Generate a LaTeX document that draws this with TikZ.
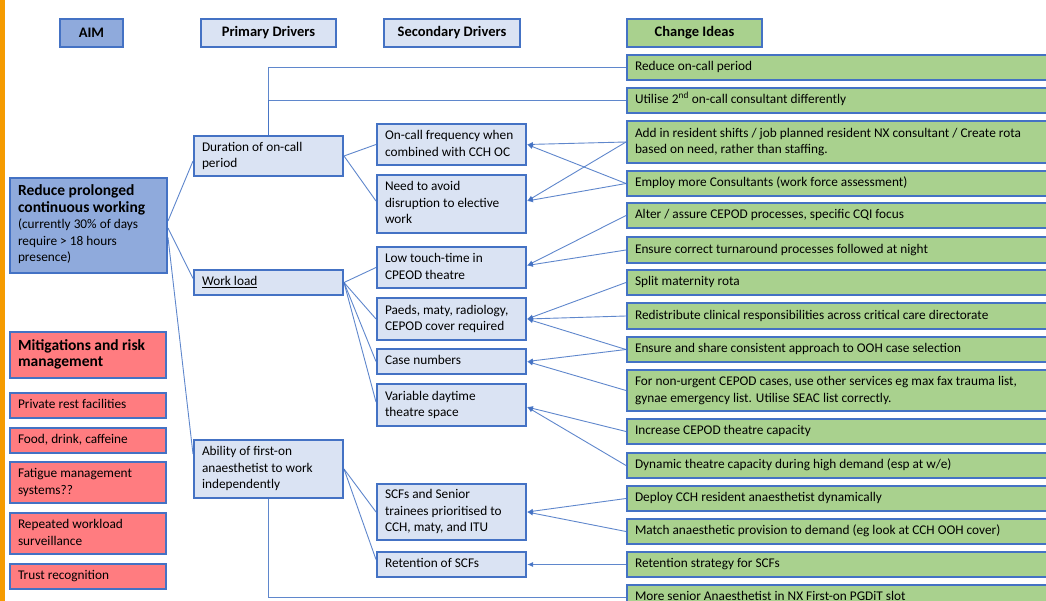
\documentclass[tikz,border=0pt]{standalone}
\usepackage{fontspec}
\setmainfont{Carlito}
\usetikzlibrary{arrows.meta,calc}
\definecolor{bord}{HTML}{4472C4}
\definecolor{aimfill}{HTML}{8FAADC}
\definecolor{lightfill}{HTML}{DAE3F3}
\definecolor{greenfill}{HTML}{A9D18E}
\definecolor{redfill}{HTML}{FF7C80}
\definecolor{orangebar}{HTML}{F59B00}
\newcommand\bodyfont{\fontsize{13.3}{16.5}\selectfont}
\newcommand\hdrfont{\fontsize{14.5}{17}\selectfont\bfseries}
\newcommand\bigbold{\fontsize{15.5}{18}\selectfont\bfseries}
% box: name, x, y, w, h, style, text
\newcommand\bx[7]{\node[#6, minimum width=#4pt, minimum height=#5pt, anchor=north west] (#1) at (#2,#3) {\makebox[\dimexpr#4pt-16pt\relax][l]{\begin{tabular}{@{}l@{}}#7\end{tabular}}};}
\begin{document}
\begin{tikzpicture}[x=1pt,y=-1pt,
  box/.style={draw=bord, line width=2pt, rectangle, inner xsep=8pt, inner ysep=2pt, font=\bodyfont},
  aimbox/.style={box, fill=aimfill},
  drvbox/.style={box, fill=lightfill},
  ideabox/.style={box, fill=greenfill},
  mitbox/.style={box, fill=redfill},
  hdr/.style={draw=bord, line width=2pt, rectangle, anchor=north west, minimum height=28pt, inner sep=0pt, font=\hdrfont, align=center},
  conn/.style={draw=bord, line width=0.9pt, draw opacity=0.85},
  arr/.style={conn, -{Latex[length=6pt,width=5pt]}}
]
\useasboundingbox (0,0) rectangle (1046,601);
\fill[white] (0,0) rectangle (1046,601);
\fill[orangebar] (0,0) rectangle (5,601);

% headers
\node[hdr, fill=aimfill, minimum width=63pt] (hAim) at (59,18) {AIM};
\node[hdr, fill=lightfill, minimum width=135pt] (hPri) at (200,18) {Primary Drivers};
\node[hdr, fill=lightfill, minimum width=136pt] (hSec) at (383,18) {Secondary Drivers};
\node[hdr, fill=greenfill, minimum width=135pt] (hChg) at (626,18) {Change Ideas};

% aim and mitigations
\bx{aim}{9}{177}{157}{95}{aimbox}{\bigbold Reduce prolonged\\ \bigbold continuous working\\ (currently 30\% of days\\ require > 18 hours\\ presence)}
\bx{mit}{9}{331}{156}{46}{mitbox}{\bigbold Mitigations and risk\\ \bigbold management}
\bx{red1}{9}{392}{156}{25}{mitbox}{Private rest facilities}
\bx{red2}{9}{427}{156}{25}{mitbox}{Food, drink, caffeine}
\bx{red3}{9}{461}{156}{41}{mitbox}{Fatigue management\\ systems??}
\bx{red4}{9}{512}{156}{41}{mitbox}{Repeated workload\\ surveillance}
\bx{red5}{9}{563}{156}{25}{mitbox}{Trust recognition}

% primary drivers
\bx{dur}{193}{135}{149}{40}{drvbox}{Duration of on-call\\ period}
\bx{wl}{193}{269}{149}{25}{drvbox}{\underline{Work load}}
\bx{abl}{193}{439}{149}{58}{drvbox}{Ability of first-on\\ anaesthetist to work\\ independently}

% secondary drivers
\bx{onc}{376}{123}{149}{41}{drvbox}{On-call frequency when\\ combined with CCH OC}
\bx{need}{376}{174}{149}{58}{drvbox}{Need to avoid\\ disruption to elective\\ work}
\bx{low}{376}{246}{149}{41}{drvbox}{Low touch-time in\\ CPEOD theatre}
\bx{paeds}{376}{297}{149}{42}{drvbox}{Paeds, maty, radiology,\\ CEPOD cover required}
\bx{casen}{376}{348}{149}{25}{drvbox}{Case numbers}
\bx{var}{376}{383}{149}{42}{drvbox}{Variable daytime\\ theatre space}
\bx{scf}{376}{483}{149}{56}{drvbox}{SCFs and Senior\\ trainees prioritised to\\ CCH, maty, and ITU}
\bx{ret}{376}{551}{149}{25}{drvbox}{Retention of SCFs}

% change ideas
\bx{ci1}{626}{54}{440}{25}{ideabox}{Reduce on-call period}
\bx{ci2}{626}{87}{440}{25}{ideabox}{Utilise 2\textsuperscript{nd} on-call consultant differently}
\bx{ci3}{626}{120}{440}{42}{ideabox}{Add in resident shifts / job planned resident NX consultant / Create rota\\ based on need, rather than staffing.}
\bx{ci4}{626}{170}{440}{25}{ideabox}{Employ more Consultants (work force assessment)}
\bx{ci5}{626}{202}{440}{25}{ideabox}{Alter / assure CEPOD processes, specific CQI focus}
\bx{ci6}{626}{236}{440}{26}{ideabox}{Ensure correct turnaround processes followed at night}
\bx{ci7}{626}{269}{440}{25}{ideabox}{Split maternity rota}
\bx{ci8}{626}{302}{440}{26}{ideabox}{Redistribute clinical responsibilities across critical care directorate}
\bx{ci9}{626}{336}{440}{25}{ideabox}{Ensure and share consistent approach to OOH case selection}
\bx{ci10}{626}{369}{440}{41}{ideabox}{For non-urgent CEPOD cases, use other services eg max fax trauma list,\\ gynae emergency list. Utilise SEAC list correctly.}
\bx{ci11}{626}{418}{440}{25}{ideabox}{Increase CEPOD theatre capacity}
\bx{ci12}{626}{452}{440}{25}{ideabox}{Dynamic theatre capacity during high demand (esp at w/e)}
\bx{ci13}{626}{485}{440}{25}{ideabox}{Deploy CCH resident anaesthetist dynamically}
\bx{ci14}{626}{518}{440}{25}{ideabox}{Match anaesthetic provision to demand (eg look at CCH OOH cover)}
\bx{ci15}{626}{551}{440}{25}{ideabox}{Retention strategy for SCFs}
\bx{ci16}{626}{584}{440}{25}{ideabox}{More senior Anaesthetist in NX First-on PGDiT slot}

% aim to primary drivers
\draw[conn] ([yshift=4.5pt]aim.east) -- ([yshift=-5pt]dur.west);
\draw[conn] ([yshift=-2.5pt]aim.east) -- ([yshift=4pt]wl.west);
\draw[conn] ([yshift=-12pt]aim.east) -- ([yshift=15pt]abl.west);

% primary to change ideas directly
\draw[conn] (dur.north) |- (ci1.west);
\draw[conn] (dur.north) |- (ci2.west);
\draw[conn] (abl.south) |- (ci16.west);

% primary to secondary
\draw[conn] (dur.east) -- (onc.west);
\draw[conn] (dur.east) -- ([yshift=3pt]need.west);
\draw[conn] (wl.east) -- (low.west);
\draw[conn] (wl.east) -- (paeds.west);
\draw[conn] (wl.east) -- (casen.west);
\draw[conn] (wl.east) -- ([yshift=3pt]var.west);
\draw[conn] (abl.east) -- (scf.west);
\draw[conn] (abl.east) -- ([yshift=5pt]ret.west);

% change ideas to secondary
\draw[arr] (ci3.west) -- (onc.east);
\draw[arr] (ci3.west) -- ([yshift=3pt]need.east);
\draw[arr] (ci4.west) -- (onc.east);
\draw[arr] (ci4.west) -- ([yshift=3pt]need.east);
\draw[arr] (ci5.west) -- ([yshift=2pt]low.east);
\draw[arr] (ci6.west) -- ([yshift=2pt]low.east);
\draw[arr] (ci7.west) -- (paeds.east);
\draw[arr] (ci8.west) -- (paeds.east);
\draw[arr] (ci9.west) -- (paeds.east);
\draw[arr] (ci9.west) -- (casen.east);
\draw[arr] (ci10.west) -- (casen.east);
\draw[arr] (ci11.west) -- ([yshift=-2pt]var.east);
\draw[arr] (ci12.west) -- ([yshift=-2pt]var.east);
\draw[arr] (ci13.west) -- (scf.east);
\draw[arr] (ci14.west) -- (scf.east);
\draw[arr] (ci15.west) -- (ret.east);
\end{tikzpicture}
\end{document}
